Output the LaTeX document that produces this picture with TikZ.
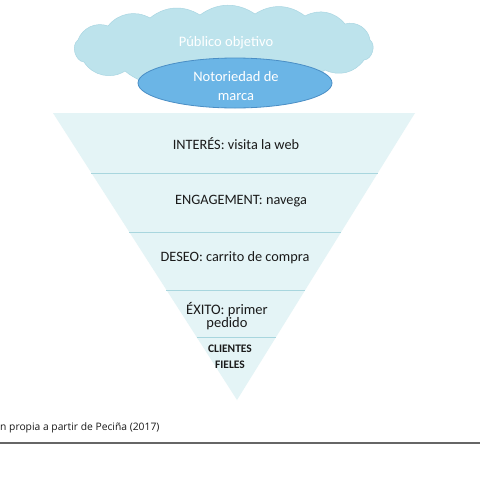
\documentclass[tikz,border=0pt]{standalone}
\usepackage{fontspec}
\setmainfont{Carlito}
\newfontfamily\capfont{Open Sans}
\usetikzlibrary{shapes.geometric,calc}
\definecolor{cloudc}{HTML}{BDE3EC}
\definecolor{cloudd}{HTML}{A9D6E2}
\definecolor{ellc}{HTML}{6BB5E6}
\definecolor{elld}{HTML}{4A8EC5}
\definecolor{func}{HTML}{E4F4F6}
\definecolor{sepc}{HTML}{A8D6DE}
\definecolor{txt}{HTML}{1A1A1A}
\tikzset{
  lbl/.style={font=\fontsize{14.3}{16}\selectfont, text=txt, align=center, inner sep=0pt},
  wlbl/.style={font=\fontsize{14.5}{19}\selectfont, text=white, align=center, inner sep=0pt},
  sep/.style={draw=sepc, line width=0.8pt}
}
\begin{document}
\begin{tikzpicture}[x=1pt,y=-1pt]
\useasboundingbox (0,0) rectangle (480,480);
\fill[white] (0,0) rectangle (480,480);
% cloud
\draw[fill=cloudc, draw=cloudd, line width=0.5pt]
  (84,62) to[bend left=70] (78,40)
  to[bend left=45] (108,26)
  to[bend left=40] (150,18)
  to[bend left=35] (200,15)
  to[bend left=35] (255,14)
  to[bend left=35] (305,16)
  to[bend left=40] (345,24)
  to[bend left=50] (370,40)
  to[bend left=70] (364,60)
  to[bend left=40] (325,70)
  to[bend left=30] (260,76)
  to[bend left=30] (190,76)
  to[bend left=35] (125,71)
  to[bend left=45] cycle;
\node[wlbl] (pub) at (226,43) {Público objetivo};
% ellipse
\node[ellipse, fill=ellc, draw=elld, line width=0.8pt, minimum width=194pt, minimum height=50pt, inner sep=0pt] (ell) at (235,83) {};
\node[wlbl] (noto) at (236,86) {Notoriedad de\\marca};
% funnel
\coordinate (L) at (53,113);
\coordinate (R) at (415,113);
\coordinate (B) at (237,400);
\fill[func] (L) -- (R) -- (B) -- cycle;
\foreach \yy in {173,232,290,337}{
  \pgfmathsetmacro{\t}{(\yy-113)/287}
  \draw[sep] ($(L)!\t!(B)$) -- ($(R)!\t!(B)$);
}
\node[lbl] (n1) at (236,144) {INTERÉS: visita la web};
\node[lbl] (n2) at (241,201) {ENGAGEMENT: navega};
\node[lbl] (n3) at (235,258) {DESEO: carrito de compra};
\node[lbl, font=\fontsize{14.5}{13.5}\selectfont] (n4) at (227,316) {ÉXITO: primer\\pedido};
\node[lbl, font=\bfseries\fontsize{11.5}{16.5}\selectfont] (n5) at (230,357) {CLIENTES\\FIELES};
% caption
\node[anchor=west, inner sep=0pt, font=\capfont\fontsize{10.3}{12}\selectfont, text=txt] (cap) at (0,428) {n propia a partir de Peciña (2017)};
\draw[line width=1.3pt, color=black!60] (0,443) -- (480,443);
\end{tikzpicture}
\end{document}
